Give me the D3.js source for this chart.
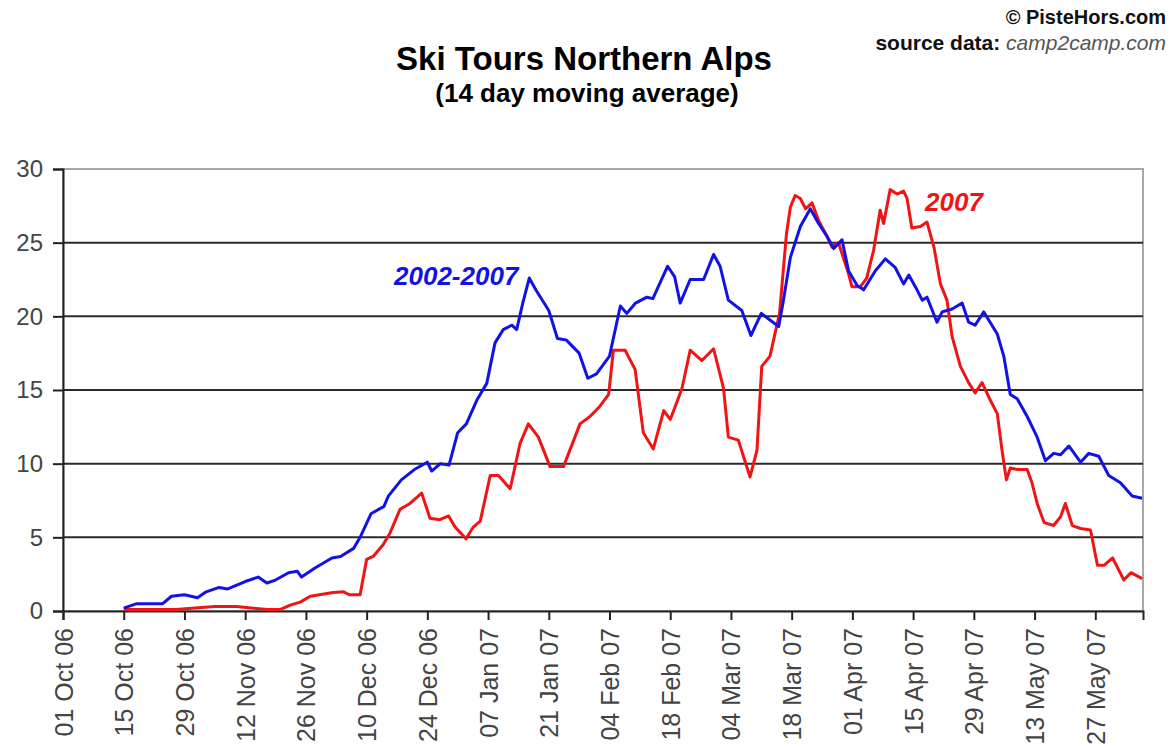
<!DOCTYPE html>
<html>
<head>
<meta charset="utf-8">
<script src="https://cdn.jsdelivr.net/npm/d3@7"></script>
<style>
  html, body { margin: 0; padding: 0; background: #ffffff; }
  svg { display: block; font-family: "Liberation Sans", Arial, sans-serif; }
</style>
</head>
<body>
<svg id="chart" width="1174" height="748"></svg>
<script>
// ---- data (day offsets counted from 01 Oct 2006) ----
const seasonStart = "2006-10-01";
const seasonEnd = "2007-06-07";

const avgDays = [14,17,23,25,28,31,33,36,38,42,45,47,49,52,54,55,58,62,64,67,68.5,71,74,75,78,81,84,85,87,89,91,93,95.4,97.7,99.6,101.5,103.5,104.6,106,107.5,109,112,114,116,119,121,123,126,128.5,130,132,134.6,136,139.4,141,142.3,144.6,147.7,150,151.5,153.4,156.5,158.6,161,163,165,166,167.7,170,172.3,174.2,176.2,177.7,179.6,181.1,183.1,184.6,187.3,189.6,191.9,193.8,195,196.9,198.1,199.2,201.5,202.7,205,207.3,208.8,210.3,212.3,215.4,216.9,218.4,220,222.3,224.6,226.5,228.4,230,231.9,234.6,236.5,238.8,241.1,243.8,246.5,248.8];
const avgValues = [0.2,0.5,0.5,1.0,1.1,0.9,1.3,1.6,1.5,2.0,2.3,1.9,2.1,2.6,2.7,2.3,2.9,3.6,3.7,4.25,5.0,6.6,7.1,7.8,8.9,9.6,10.1,9.5,10.0,9.9,12.1,12.7,14.3,15.45,18.2,19.1,19.4,19.1,20.9,22.6,21.8,20.4,18.5,18.4,17.5,15.8,16.1,17.3,20.7,20.2,20.9,21.3,21.2,23.4,22.7,20.9,22.5,22.5,24.2,23.4,21.1,20.4,18.7,20.2,19.75,19.3,20.9,24.0,26.1,27.3,26.3,25.4,24.6,25.2,23.1,22.1,21.8,23.1,23.9,23.3,22.2,22.8,21.8,21.1,21.3,19.6,20.3,20.5,20.9,19.6,19.4,20.3,18.8,17.3,14.7,14.4,13.2,11.8,10.2,10.7,10.6,11.2,10.1,10.7,10.5,9.2,8.7,7.8,7.65];

const y2007Days = [14,26,35,40,47,50,52.4,54.7,57,62.3,64.7,66,68.5,70,71.5,73.8,75.4,77.7,80,82.7,84.6,86.9,88.9,90.4,92.9,94.6,96.2,98.5,100.4,103.1,105.4,107.3,109.6,112.3,115.4,119.2,121.5,123.8,125.8,126.9,129.6,131.9,133.8,136.1,138.5,140,140.8,142.7,144.6,147.3,150,152.3,153.4,155.7,158.4,160,161.1,163,165.2,166.8,167.7,168.8,170,171.2,172.7,174.2,176.2,177.3,178.8,181.1,181.9,183.8,185.3,186.9,188.4,189.2,190.7,192.3,193.8,194.6,195.7,197.7,199.2,200.8,202.3,203.8,205,206.9,208.8,210.3,211.9,213.8,215.4,216.5,217.5,218.4,220,222.3,223.4,224.6,226.2,228.4,230,231.1,232.7,234.6,236.9,238.5,240,242,244.6,246.2,248.8];
const y2007Values = [0.1,0.1,0.3,0.3,0.1,0.1,0.4,0.6,1.0,1.25,1.3,1.1,1.1,3.5,3.7,4.5,5.3,6.9,7.3,8.0,6.3,6.2,6.45,5.7,4.9,5.7,6.1,9.2,9.2,8.3,11.4,12.7,11.8,9.8,9.8,12.7,13.2,13.9,14.7,17.7,17.7,16.4,12.1,11.0,13.6,13.0,13.6,15.1,17.7,17.0,17.8,15.1,11.8,11.6,9.1,10.9,16.6,17.3,20.2,25.6,27.4,28.2,28.0,27.3,27.7,26.5,25.4,24.7,25.0,22.9,22.0,22.0,22.6,24.5,27.2,26.3,28.6,28.3,28.5,28.0,26.0,26.1,26.4,24.7,22.2,21.1,18.6,16.6,15.5,14.8,15.5,14.3,13.4,10.9,8.9,9.7,9.6,9.6,8.7,7.3,6.0,5.8,6.4,7.3,5.8,5.6,5.5,3.1,3.1,3.6,2.1,2.6,2.2];

const tickLabels = ["01 Oct 06","15 Oct 06","29 Oct 06","12 Nov 06","26 Nov 06","10 Dec 06","24 Dec 06","07 Jan 07","21 Jan 07","04 Feb 07","18 Feb 07","04 Mar 07","18 Mar 07","01 Apr 07","15 Apr 07","29 Apr 07","13 May 07","27 May 07"];
const yTicks = [0,5,10,15,20,25,30];

const seriesNames = ["2002-2007", "2007"];
const seriesColors = ["#1212e6", "#f01414"];

// ---- layout ----
const svg = d3.select("#chart");
const plotLeft = 63, plotRight = 1143, plotTop = 169, plotBottom = 611;

const parseTick = d3.utcParse("%d %b %y");
const fmtTick = d3.utcFormat("%d %b %y");
const t0 = d3.utcParse("%Y-%m-%d")(seasonStart);
const t1 = d3.utcParse("%Y-%m-%d")(seasonEnd);
const dayToDate = d => new Date(t0.getTime() + d * 86400000);

const x = d3.scaleUtc().domain([t0, t1]).range([plotLeft, plotRight]);
const y = d3.scaleLinear().domain([0, 30]).range([plotBottom, plotTop]);

// plot border (grey)
svg.append("rect")
  .attr("x", plotLeft).attr("y", plotTop)
  .attr("width", plotRight - plotLeft).attr("height", plotBottom - plotTop)
  .attr("fill", "#ffffff").attr("stroke", "#a8a8a8").attr("stroke-width", 2);

// gridlines
svg.append("g").selectAll("line")
  .data(yTicks.filter(v => v > 0 && v < 30))
  .join("line")
  .attr("x1", plotLeft).attr("x2", plotRight)
  .attr("y1", d => y(d)).attr("y2", d => y(d))
  .attr("stroke", "#2a2a2a").attr("stroke-width", 2);

// y axis
const yAxis = svg.append("g")
  .attr("transform", `translate(${plotLeft},0)`)
  .call(d3.axisLeft(y).tickValues(yTicks).tickSize(10).tickPadding(10).tickFormat(d3.format("d")));
yAxis.select(".domain").attr("stroke", "#222").attr("stroke-width", 2);
yAxis.selectAll(".tick line").attr("stroke", "#222").attr("stroke-width", 2);
yAxis.selectAll(".tick text")
  .attr("fill", "#444").attr("font-size", 24)
  .attr("font-family", "'Liberation Sans', Arial, sans-serif");

// x axis
const tickDates = tickLabels.map(parseTick);
const xAxis = svg.append("g")
  .attr("transform", `translate(0,${plotBottom})`)
  .call(d3.axisBottom(x).tickValues(tickDates).tickSize(9).tickFormat(fmtTick));
xAxis.select(".domain").attr("stroke", "#222").attr("stroke-width", 2);
xAxis.selectAll(".tick line").attr("stroke", "#222").attr("stroke-width", 2);
xAxis.selectAll(".tick text")
  .attr("fill", "#444").attr("font-size", 25)
  .attr("font-family", "'Liberation Sans', Arial, sans-serif")
  .attr("transform", "rotate(-90)")
  .attr("text-anchor", "end")
  .attr("x", -17).attr("y", 0).attr("dy", "0.36em");

// lines
const line = d3.line().x(d => x(dayToDate(d[0]))).y(d => y(d[1]));
const avgData = avgDays.map((d, i) => [d, avgValues[i]]);
const curData = y2007Days.map((d, i) => [d, y2007Values[i]]);

svg.append("path").datum(curData)
  .attr("d", line).attr("fill", "none")
  .attr("stroke", seriesColors[1]).attr("stroke-width", 3).attr("stroke-linejoin", "round");
svg.append("path").datum(avgData)
  .attr("d", line).attr("fill", "none")
  .attr("stroke", seriesColors[0]).attr("stroke-width", 3).attr("stroke-linejoin", "round");

// series labels
svg.append("text").text(seriesNames[0])
  .attr("x", 394).attr("y", 285)
  .attr("font-size", 26).attr("font-weight", "bold").attr("font-style", "italic")
  .attr("fill", seriesColors[0]);
svg.append("text").text(seriesNames[1])
  .attr("x", 925).attr("y", 211)
  .attr("font-size", 26).attr("font-weight", "bold").attr("font-style", "italic")
  .attr("fill", seriesColors[1]);

// titles
svg.append("text").text("Ski Tours Northern Alps")
  .attr("x", 584).attr("y", 70).attr("text-anchor", "middle")
  .attr("font-size", 33).attr("font-weight", "bold").attr("fill", "#000");
svg.append("text").text("(14 day moving average)")
  .attr("x", 587).attr("y", 102).attr("text-anchor", "middle")
  .attr("font-size", 26).attr("font-weight", "bold").attr("fill", "#000");

svg.append("text").text("© PisteHors.com")
  .attr("x", 1166).attr("y", 24).attr("text-anchor", "end")
  .attr("font-size", 20).attr("font-weight", "bold").attr("fill", "#111");
const src = svg.append("text")
  .attr("x", 1166).attr("y", 50).attr("text-anchor", "end")
  .attr("font-size", 21).attr("fill", "#111");
src.append("tspan").text("source data: ").attr("font-weight", "bold");
src.append("tspan").text("camp2camp.com").attr("font-style", "italic").attr("fill", "#555");
</script>
</body>
</html>
